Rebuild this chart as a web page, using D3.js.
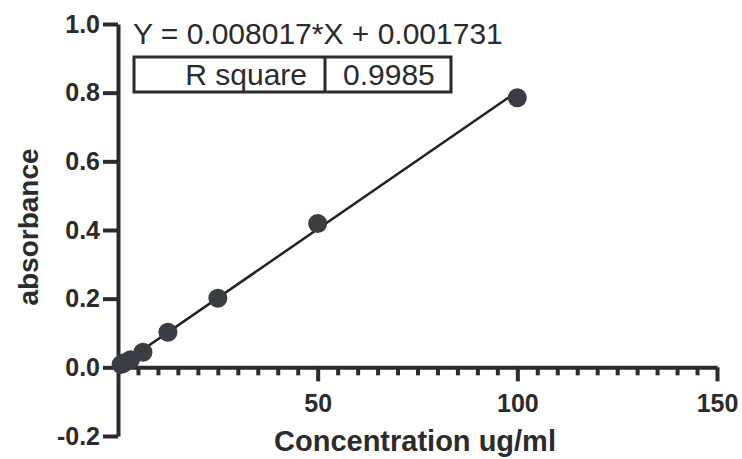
<!DOCTYPE html>
<html>
<head>
<meta charset="utf-8">
<script src="https://cdn.jsdelivr.net/npm/d3@7"></script>
<style>
  body { margin: 0; background: #fff; }
  text { font-family: "Liberation Sans", Arial, sans-serif; fill: #2b2b2b; }
</style>
</head>
<body>
<svg id="chart" width="742" height="459" viewBox="0 0 742 459"></svg>
<script>
// standard curve data
const concentrations = [0.78, 1.56, 3.125, 6.25, 12.5, 25, 50, 100];
const absorbances = [0.008, 0.013, 0.022, 0.044, 0.102, 0.201, 0.419, 0.785];
const slope = 0.008017;
const intercept = 0.001731;
const rSquare = "0.9985";
const yTicks = [-0.2, 0, 0.2, 0.4, 0.6, 0.8, 1.0];
const xMajorTicks = [50, 100, 150];
const xMinorTicks = d3.range(5, 150, 5).filter((v) => v % 50 !== 0);

const ink = "#2b2b2b";
const svg = d3.select("#chart");

const xScale = d3.scaleLinear().domain([0, 150]).range([118, 717]);
const yScale = d3.scaleLinear().domain([-0.2, 1.0]).range([436, 24]);

// y axis
const yAxis = d3
  .axisLeft(yScale)
  .tickValues(yTicks)
  .tickSize(15)
  .tickSizeOuter(0)
  .tickPadding(3)
  .tickFormat((d) => d.toFixed(1).replace("\u2212", "-"));

const yAxisG = svg
  .append("g")
  .attr("transform", `translate(${xScale(0)} 0)`)
  .call(yAxis);

yAxisG.selectAll("path, line").style("stroke", ink).style("stroke-width", "4px");
yAxisG
  .selectAll("text")
  .style("font-size", "25px")
  .style("font-weight", "bold")
  .style("fill", ink);

// x axis (drawn at y = 0), minor ticks first
const xMinorG = svg
  .append("g")
  .attr("transform", `translate(0 ${yScale(0)})`)
  .call(d3.axisBottom(xScale).tickValues(xMinorTicks).tickSize(8).tickFormat(""));
xMinorG.select("path").remove();
xMinorG.selectAll("line").style("stroke", ink).style("stroke-width", "4px");

const xAxisG = svg
  .append("g")
  .attr("transform", `translate(0 ${yScale(0)})`)
  .call(
    d3.axisBottom(xScale).tickValues(xMajorTicks).tickSize(14).tickSizeOuter(0).tickPadding(13)
  );
xAxisG.selectAll("path, line").style("stroke", ink).style("stroke-width", "4px");
xAxisG
  .selectAll("text")
  .style("font-size", "25px")
  .style("font-weight", "bold")
  .style("fill", ink);

// axis titles
svg
  .append("text")
  .attr("x", 415)
  .attr("y", 451)
  .attr("text-anchor", "middle")
  .style("font-size", "29px")
  .style("font-weight", "bold")
  .text("Concentration ug/ml");

svg
  .append("text")
  .attr("transform", "translate(38 227) rotate(-90)")
  .attr("text-anchor", "middle")
  .style("font-size", "28px")
  .style("font-weight", "bold")
  .text("absorbance");

// regression line
const fitX = [0, d3.max(concentrations)];
svg
  .append("line")
  .attr("x1", xScale(fitX[0]))
  .attr("y1", yScale(slope * fitX[0] + intercept))
  .attr("x2", xScale(fitX[1]))
  .attr("y2", yScale(slope * fitX[1] + intercept))
  .style("stroke", "#222")
  .style("stroke-width", "2.5px");

// points
svg
  .append("g")
  .selectAll("circle")
  .data(concentrations.map((c, i) => ({ c, a: absorbances[i] })))
  .enter()
  .append("circle")
  .attr("cx", (d) => xScale(d.c))
  .attr("cy", (d) => yScale(d.a))
  .attr("r", 9.5)
  .style("fill", "#3a3d43");

// equation + R square box
svg
  .append("text")
  .attr("x", 133)
  .attr("y", 44)
  .style("font-size", "30px")
  .text(`Y = ${slope}*X + ${intercept}`);

const boxG = svg.append("g");
boxG
  .append("rect")
  .attr("x", 134)
  .attr("y", 57)
  .attr("width", 317)
  .attr("height", 35)
  .style("fill", "none")
  .style("stroke", ink)
  .style("stroke-width", "3px");
boxG
  .append("line")
  .attr("x1", 325)
  .attr("x2", 325)
  .attr("y1", 57)
  .attr("y2", 92)
  .style("stroke", ink)
  .style("stroke-width", "3px");
boxG
  .append("text")
  .attr("x", 307)
  .attr("y", 85)
  .attr("text-anchor", "end")
  .style("font-size", "30px")
  .text("R square");
boxG
  .append("text")
  .attr("x", 343)
  .attr("y", 85)
  .style("font-size", "30px")
  .text(rSquare);
</script>
</body>
</html>
